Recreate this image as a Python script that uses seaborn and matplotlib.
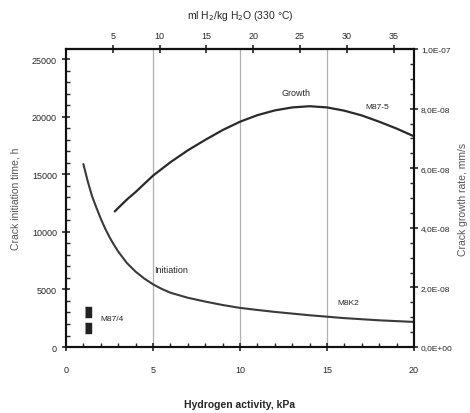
import matplotlib
matplotlib.use("Agg")
import matplotlib.pyplot as plt
import matplotlib.ticker as mticker
import numpy as np
import pandas as pd
import seaborn as sns

# ---------------------------------------------------------------------------
# Data
# ---------------------------------------------------------------------------
init_kpa = [1.0, 1.25, 1.5, 1.75, 2.0, 2.25, 2.5, 2.75, 3.0, 3.5, 4.0, 4.5,
            5.0, 5.5, 6.0, 7.0, 8.0, 9.0, 10.0, 11.0, 12.0, 14.0, 16.0,
            18.0, 20.0]
init_hours = [15900, 14400, 13100, 12100, 11150, 10300, 9550, 8900, 8300,
              7300, 6550, 5950, 5450, 5050, 4720, 4280, 3950, 3650, 3400,
              3220, 3050, 2760, 2510, 2320, 2180]

growth_kpa = [2.8, 3.5, 4.0, 5.0, 6.0, 7.0, 8.0, 9.0, 10.0, 11.0, 12.0,
              13.0, 14.0, 15.0, 16.0, 17.0, 18.0, 19.0, 20.0]
growth_rate = [4.55e-8, 4.95e-8, 5.2e-8, 5.75e-8, 6.2e-8, 6.6e-8, 6.95e-8,
               7.28e-8, 7.56e-8, 7.78e-8, 7.94e-8, 8.04e-8, 8.08e-8, 8.04e-8,
               7.93e-8, 7.77e-8, 7.56e-8, 7.33e-8, 7.07e-8]

m874_kpa = [1.27, 1.27]
m874_hours = [3050, 1650]

grid_kpa = [5, 10, 15]
top_ticks = [5, 10, 15, 20, 25, 30, 35]
KPA_PER_ML = 0.538  # hydrogen activity per ml H2/kg H2O at 330 C

init_df = pd.DataFrame({"kpa": init_kpa, "hours": init_hours})
growth_df = pd.DataFrame({"kpa": growth_kpa, "rate": growth_rate})
pts_df = pd.DataFrame({"kpa": m874_kpa, "hours": m874_hours})

# ---------------------------------------------------------------------------
# Figure
# ---------------------------------------------------------------------------
sns.set_style("ticks")
plt.rcParams["font.family"] = ["Liberation Sans", "DejaVu Sans"]

ink = "#262626"
fig = plt.figure(figsize=(4.70, 4.14), dpi=100)
ax = fig.add_axes([0.1404, 0.1594, 0.7405, 0.7198])

for gx in grid_kpa:
    ax.axvline(gx, color="#b0b0b0", linewidth=0.9, zorder=0)

sns.lineplot(data=init_df, x="kpa", y="hours", ax=ax, color="#3a3a3a",
             linewidth=1.5)
rect = [(-0.55, -1), (0.55, -1), (0.55, 1), (-0.55, 1)]
ax.plot(pts_df["kpa"], pts_df["hours"], linestyle="none", marker=rect,
        markersize=7.5, color="#222222")

ax.set_xlim(0, 20)
ax.set_ylim(0, 25900)
ax.xaxis.set_major_locator(mticker.MultipleLocator(5))
ax.xaxis.set_minor_locator(mticker.MultipleLocator(1))
ax.yaxis.set_major_locator(mticker.MultipleLocator(5000))
ax.yaxis.set_minor_locator(mticker.MultipleLocator(1000))
ax.tick_params(which="major", direction="inout", length=6, width=1.2,
               labelsize=6.5, colors=ink)
ax.tick_params(axis="x", which="major", pad=10)
ax.tick_params(which="minor", direction="in", length=3, width=1.0)
ax.set_xlabel("Hydrogen activity, kPa", fontsize=7.5, color=ink,
              labelpad=18, fontweight="bold")
ax.set_ylabel("Crack initiation time, h", fontsize=7.5, color="#555555",
              labelpad=8)

ax2 = ax.twinx()
sns.lineplot(data=growth_df, x="kpa", y="rate", ax=ax2, color="#2a2a2a",
             linewidth=1.6)
ax2.set_ylim(0, 1e-7)
ax2.yaxis.set_major_locator(mticker.MultipleLocator(2e-8))
ax2.yaxis.set_minor_locator(mticker.MultipleLocator(5e-9))
ax2.yaxis.set_major_formatter(
    mticker.FuncFormatter(lambda v, p: f"{v:.1E}".replace(".", ",")))
ax2.yaxis.get_offset_text().set_visible(False)
ax2.tick_params(which="major", direction="inout", length=6, width=1.2,
                labelsize=6, colors=ink, pad=2)
ax2.tick_params(which="minor", direction="in", length=3, width=1.0)
ax2.set_ylabel("Crack growth rate, mm/s", fontsize=7.5, color="#555555",
               labelpad=4)
ax2.set_xlabel("")

top = ax.secondary_xaxis("top", functions=(lambda k: k / KPA_PER_ML,
                                           lambda m: m * KPA_PER_ML))
top.set_xticks(top_ticks)
top.tick_params(direction="inout", length=6, width=1.2, labelsize=6.5,
                colors=ink)
top.set_xlabel("ml H$_2$/kg H$_2$O (330 °C)", fontsize=7.5, color=ink,
               labelpad=9)

for a in (ax, ax2):
    for s in a.spines.values():
        s.set_linewidth(1.5)
        s.set_color("#111111")
top.spines["top"].set_linewidth(1.5)

ax.text(5.05, 6700, "Initiation", fontsize=6.5, color=ink, va="center")
ax.text(13.2, 22100, "Growth", fontsize=6.5, color=ink, va="center",
        ha="center")
ax.text(17.2, 20900, "M87-5", fontsize=6, color=ink, va="center")
ax.text(15.6, 3900, "M8K2", fontsize=6, color=ink, va="center")
ax.text(2.0, 2500, "M87/4", fontsize=6, color=ink, va="center")

fig.savefig("out.png", dpi=100)
plt.close(fig)
